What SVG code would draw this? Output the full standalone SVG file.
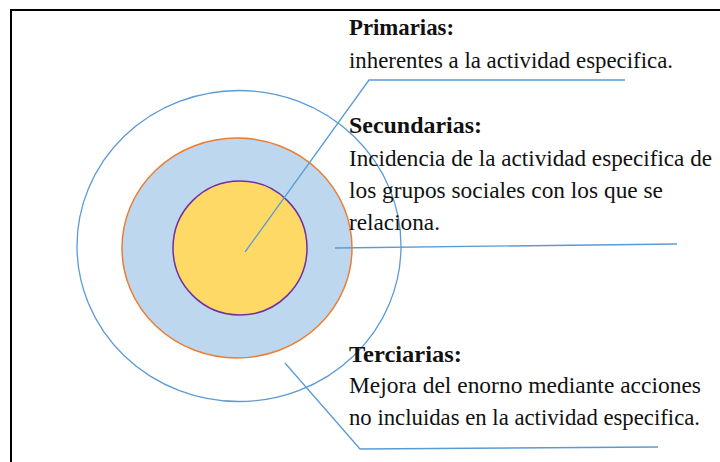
<svg xmlns="http://www.w3.org/2000/svg" width="720" height="462" viewBox="0 0 720 462">
<style>
.frame{stroke:#000;stroke-width:2;fill:none}
.lead{stroke:#5B9BD5;stroke-width:1.3;fill:none}
.t{font-family:"Liberation Serif","Times New Roman",serif;font-size:22.5px;fill:#111}
.b{font-weight:bold}
</style>
<rect width="720" height="462" fill="#fff"/>
<g id="frame">
<path class="frame" d="M11,462 V10 H720"/>
</g>
<g id="outer">
<ellipse cx="239" cy="246" rx="162" ry="155.5" fill="none" stroke="#5B9BD5" stroke-width="1.3"/>
</g>
<g id="middle">
<ellipse cx="237" cy="248" rx="115" ry="110" fill="#BDD7EE" stroke="#ED7D31" stroke-width="1.5"/>
</g>
<g id="inner">
<ellipse cx="240" cy="248" rx="67" ry="67" fill="#FFD966" stroke="#7030A0" stroke-width="1.5"/>
</g>
<g id="connectors">
<path class="lead" d="M245,252 L369,80 H625"/>
<path class="lead" d="M335,248 L677,244"/>
<path class="lead" d="M285,363 L360,449 L658,447"/>
</g>
<g id="primarias">
<text class="t b" x="349" y="35" textLength="105" lengthAdjust="spacingAndGlyphs">Primarias:</text>
<text class="t" x="349" y="68" textLength="324" lengthAdjust="spacingAndGlyphs">inherentes a la actividad especifica.</text>
</g>
<g id="secundarias">
<text class="t b" x="349" y="133" textLength="133" lengthAdjust="spacingAndGlyphs">Secundarias:</text>
<text class="t" x="349" y="166" textLength="363" lengthAdjust="spacingAndGlyphs">Incidencia de la actividad especifica de</text>
<text class="t" x="349" y="198" textLength="314" lengthAdjust="spacingAndGlyphs">los grupos sociales con los que se</text>
<text class="t" x="349" y="230" textLength="91" lengthAdjust="spacingAndGlyphs">relaciona.</text>
</g>
<g id="terciarias">
<text class="t b" x="349" y="362" textLength="113" lengthAdjust="spacingAndGlyphs">Terciarias:</text>
<text class="t" x="349" y="393" textLength="352" lengthAdjust="spacingAndGlyphs">Mejora del enorno mediante acciones</text>
<text class="t" x="349" y="425" textLength="351" lengthAdjust="spacingAndGlyphs">no incluidas en la actividad especifica.</text>
</g>
</svg>
